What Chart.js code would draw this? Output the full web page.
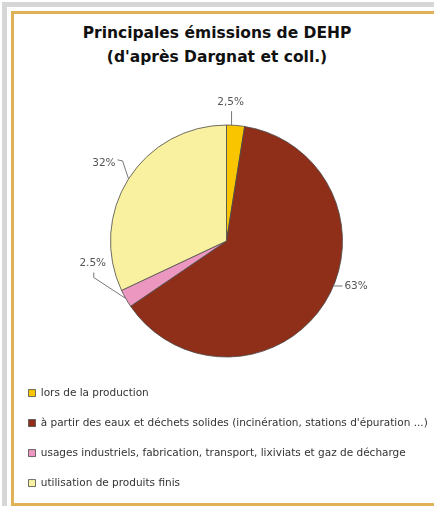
<!DOCTYPE html>
<html>
<head>
<meta charset="utf-8">
<script src="https://cdn.jsdelivr.net/npm/chart.js@4"></script>
<style>
  html, body { margin: 0; padding: 0; background: #fff; overflow: hidden; }
  body { width: 434px; height: 506px; position: relative; }
  .band-top { position: absolute; left: 2px; top: 2px; width: 432px; height: 5px; background: #d6d6d6; }
  .band-left { position: absolute; left: 2px; top: 2px; width: 5px; height: 504px; background: #d6d6d6; }
  .frame { position: absolute; left: 11px; top: 11px; width: 430px; height: 489px;
           border-left: 3px solid #e0b257; border-top: 3px solid #e0b257; border-bottom: 3px solid #e0b257; }
  .title { position: absolute; left: 0; top: 21px; width: 434px; text-align: center;
           font: bold 15.5px "DejaVu Sans", sans-serif; line-height: 24px; color: #111; }
  .chart-box { position: absolute; left: 8.5px; top: 70px; width: 435px; height: 428.25px; }
</style>
</head>
<body>
<div class="band-top"></div>
<div class="band-left"></div>
<div class="frame"></div>
<div class="title">Principales émissions de DEHP<br>(d'après Dargnat et coll.)</div>
<div class="chart-box"><canvas id="pieChart"></canvas></div>

<script>
const categories = [
    "lors de la production",
    "à partir des eaux et déchets solides (incinération, stations d'épuration ...)",
    "usages industriels, fabrication, transport, lixiviats et gaz de décharge",
    "utilisation de produits finis"
];
const shares = [2.5, 63, 2.5, 32];
const shareLabels = ["2,5%", "63%", "2.5%", "32%"];
const sliceColors = ["#f8c500", "#8f2f19", "#ec97c0", "#f9f1a0"];

// leader lines: angle nudge (deg), bend points and text anchor, relative to the arc edge
const leaders = [
    { nudge: -2,   path: [[0, -14]],               text: [-1, -23], align: "center" },
    { nudge: -9.6, path: [[9, 0]],                 text: [11, 0],   align: "left" },
    { nudge: 0,    path: [[-32, -21], [-32, -26]], text: [-33, -35], align: "center" },
    { nudge: 0,    path: [[-6, -18], [-11, -19]],  text: [-13, -16], align: "right" }
];

const sliceLabels = {
    id: "sliceLabels",
    afterDatasetsDraw(chart) {
        const ctx = chart.ctx;
        const arcs = chart.getDatasetMeta(0).data;
        ctx.save();
        ctx.font = "10.5px 'DejaVu Sans', sans-serif";
        ctx.textBaseline = "middle";
        arcs.forEach((arc, i) => {
            const l = leaders[i];
            const mid = (arc.startAngle + arc.endAngle) / 2 + l.nudge * Math.PI / 180;
            const px = arc.x + Math.cos(mid) * arc.outerRadius;
            const py = arc.y + Math.sin(mid) * arc.outerRadius;
            ctx.strokeStyle = "#777";
            ctx.lineWidth = 1;
            ctx.beginPath();
            ctx.moveTo(px, py);
            l.path.forEach(([dx, dy]) => ctx.lineTo(px + dx, py + dy));
            ctx.stroke();
            ctx.fillStyle = "#555";
            ctx.textAlign = l.align;
            ctx.fillText(shareLabels[i], px + l.text[0], py + l.text[1]);
        });
        ctx.restore();
    }
};

new Chart(document.getElementById("pieChart"), {
    type: "pie",
    data: {
        labels: categories,
        datasets: [{
            data: shares,
            backgroundColor: sliceColors,
            borderColor: "#4a4a4a",
            borderWidth: 0.8,
            radius: 116
        }]
    },
    options: {
        responsive: true,
        maintainAspectRatio: false,
        animation: false,
        layout: { padding: { top: 43.75, left: 0, right: 0, bottom: 0 } },
        plugins: {
            tooltip: { enabled: false },
            legend: {
                position: "bottom",
                align: "start",
                labels: {
                    boxWidth: 7,
                    boxHeight: 7,
                    padding: 19.5,
                    color: "#333",
                    font: { family: "'DejaVu Sans', sans-serif", size: 10.5 }
                }
            }
        }
    },
    plugins: [sliceLabels]
});
</script>
</body>
</html>
